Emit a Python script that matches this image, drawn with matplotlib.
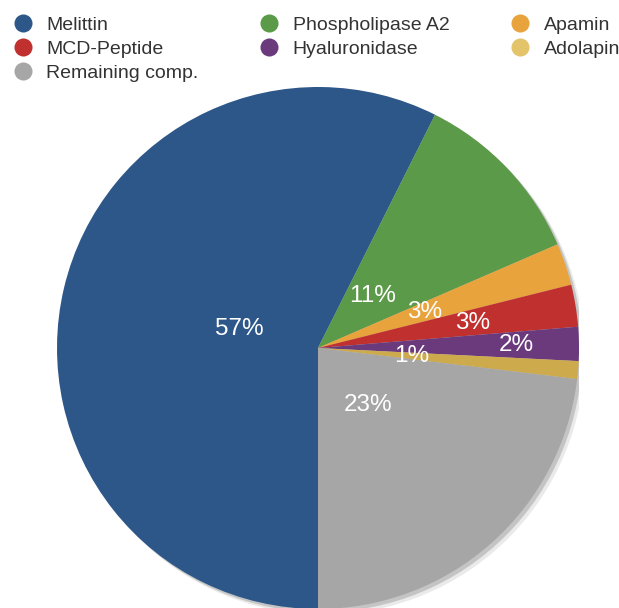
import numpy as np
import matplotlib
matplotlib.use("Agg")
import matplotlib.pyplot as plt
from matplotlib.patches import Circle
from matplotlib.lines import Line2D

plt.rcParams["font.family"] = ["Liberation Sans", "DejaVu Sans"]

# data
components = ["Melittin", "Phospholipase A2", "Apamin", "MCD-Peptide",
              "Hyaluronidase", "Adolapin", "Remaining comp."]
shares = [57.4, 11.1, 2.6, 2.6, 2.1, 1.1, 23.1]

colors = ["#2D5689", "#5B9A48", "#E8A33C", "#C0302E", "#6B3A7D", "#CDAA4C", "#A6A6A6"]
legend_colors = ["#2D5689", "#5B9A48", "#E8A33C", "#C0302E", "#6B3A7D", "#E3C46A", "#A6A6A6"]
label_r = [0.31, 0.29, 0.43, 0.60, 0.76, 0.36, 0.29]

fig = plt.figure(figsize=(6.19, 6.08), dpi=100)
ax = fig.add_axes([57 / 619, -1 / 608, 522 / 619, 522 / 608])

# soft shadow behind the pie
for off, a in [(0.012, 0.25), (0.022, 0.12)]:
    ax.add_patch(Circle((off, -off), 1.0, color="#555555", alpha=a, lw=0, zorder=0))

wedges, _ = ax.pie(shares, colors=colors, startangle=270, counterclock=False,
                   radius=1.0, wedgeprops=dict(linewidth=0))
for w in wedges:
    w.set_zorder(2)

for w, v, r in zip(wedges, shares, label_r):
    mid = np.deg2rad((w.theta1 + w.theta2) / 2)
    ax.text(r * np.cos(mid), r * np.sin(mid), f"{v:.0f}%", color="white",
            fontsize=17.5, ha="center", va="center", zorder=3)

ax.set_xlim(-1, 1)
ax.set_ylim(-1, 1)
ax.set_aspect("equal")
ax.axis("off")

# legend, column-major order: 3 / 2 / 2
order = [0, 3, 6, 1, 4, 2, 5]
handles = [Line2D([], [], marker="o", ls="", markersize=13,
                  markerfacecolor=legend_colors[i], markeredgewidth=0) for i in order]
fig.legend(handles, [components[i] for i in order], ncol=3,
           loc="upper left", bbox_to_anchor=(13 / 619, 1 - 16 / 608), frameon=False,
           fontsize=14, labelcolor="#333333", handlelength=1.0, handletextpad=0.7,
           columnspacing=3.15, labelspacing=0.33, borderaxespad=0, borderpad=0)

fig.savefig("out.png", dpi=100, facecolor="white")
